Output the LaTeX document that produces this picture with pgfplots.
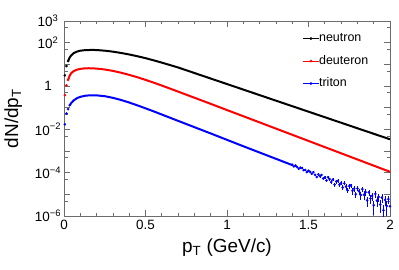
\documentclass[border=0pt]{standalone}
\usepackage{fontspec}
\setmainfont{Liberation Sans}
\usepackage{pgfplots}
\pgfplotsset{compat=1.18}
\begin{document}
\begin{tikzpicture}
\path[use as bounding box] (-64bp,-54bp) rectangle (335bp,216bp);
\begin{axis}[
  at={(0,0)}, anchor=south west,
  width=326bp, height=195bp, scale only axis,
  xmin=0, xmax=2, ymin=1e-6, ymax=1e3, ymode=log,
  clip=true,
  axis line style={gray!85!black, line width=0.8bp},
  tick style={gray!85!black, line width=0.7bp},
  tick align=inside,
  xtick pos=both, ytick pos=both,
  xticklabel pos=lower, yticklabel pos=left,
  major tick length=6bp, minor tick length=3.5bp,
  xtick={0,0.5,1,1.5,2},
  xticklabels={0,0.5,1,1.5,2},
  minor x tick num=4,
  ytick={1e-6,1e-5,1e-4,1e-3,1e-2,1e-1,1,10,100,1000},
  yticklabels={10\textsuperscript{−6},{},10\textsuperscript{−4},{},10\textsuperscript{−2},{},1,{},10\textsuperscript{2},10\textsuperscript{3}},
  minor ytick={5e-6,5e-5,5e-4,5e-3,5e-2,0.5,5,50,500},
  ticklabel style={font=\fontsize{13.5}{16}\selectfont, text=black},
  yticklabel style={anchor=center, xshift=-16bp},
  xticklabel style={yshift=-1bp},
  /pgf/number format/assume math mode=true,
  xlabel={p\textsubscript{T} (GeV/c)},
  ylabel={dN/dp\textsubscript{T}},
  label style={font=\fontsize{19}{22}\selectfont},
  xlabel style={at={(axis description cs:0.5,0)}, anchor=base, yshift=-36bp},
  ylabel style={at={(axis description cs:-0.141,0.5)}, anchor=base},
  legend image code/.code={
    \draw[#1, line width=0.7bp] (0bp,0bp) -- (15.6bp,0bp);
    \fill[#1] (7.8bp,0bp) circle (1.2bp);},
  legend style={at={(rel axis cs:0.732,0.942)}, anchor=north west, draw=none, fill=none,
    font=\fontsize{12.5}{14}\selectfont, inner sep=0pt, row sep=10.5bp,
    nodes={inner sep=0pt, text height=9bp, text depth=3bp},
    /tikz/every even column/.append style={column sep=2.5bp}},
  legend cell align=left,
]
\addlegendimage{black}\addlegendentry{neutron}
\addlegendimage{red}\addlegendentry{deuteron}
\addlegendimage{blue}\addlegendentry{triton}

% neutron
\addplot[black, line width=2bp, forget plot] coordinates {
(0.025,14.1)(0.035,20.9)(0.045,26.3)(0.06,33.1)(0.08,38.9)(0.10,42.7)(0.13,45.2)(0.17,46.2)
(0.20,45.7)(0.25,42.7)(0.30,38.5)(0.35,33.5)(0.40,28.5)(0.45,23.7)(0.50,19.3)(0.55,15.3)
(0.60,12.0)(0.70,7.16)(0.80,3.98)(0.90,2.21)(1.00,1.23)(1.10,0.684)(1.20,0.380)(1.30,0.211)
(1.40,0.1175)(1.50,0.0653)(1.60,0.0363)(1.70,0.0202)(1.80,0.0112)(1.90,0.00624)(2.00,0.00347)};
\addplot[black, only marks, mark=*, mark size=1.1bp, forget plot] coordinates {
(0.005,3.09)(0.015,8.32)(0.025,14.1)};

% deuteron
\addplot[red, line width=2bp, forget plot] coordinates {
(0.025,1.91)(0.035,3.02)(0.045,3.98)(0.06,4.90)(0.08,5.69)(0.10,6.17)(0.125,6.49)(0.15,6.61)
(0.20,6.38)(0.25,5.78)(0.30,4.98)(0.35,4.10)(0.40,3.27)(0.45,2.54)(0.50,1.92)(0.55,1.43)
(0.60,1.05)(0.70,0.552)(0.80,0.288)(0.90,0.150)(1.00,0.0776)(1.10,0.0403)(1.20,0.0209)
(1.30,0.01084)(1.40,0.00562)(1.50,0.00292)(1.60,0.00151)(1.70,7.85e-4)(1.80,4.07e-4)
(1.90,2.11e-4)(2.00,1.10e-4)};
\addplot[red, only marks, mark=*, mark size=1.1bp, forget plot] coordinates {
(0.005,0.380)(0.015,1.07)(0.025,1.91)};

% triton
\addplot[blue, line width=2bp, forget plot] coordinates {
(0.035,0.129)(0.045,0.166)(0.06,0.219)(0.08,0.275)(0.10,0.316)(0.13,0.355)(0.16,0.372)
(0.19,0.373)(0.20,0.369)(0.25,0.339)(0.30,0.285)(0.35,0.226)(0.40,0.173)(0.45,0.128)
(0.50,0.0933)(0.55,0.0676)(0.60,0.0482)(0.70,0.0246)(0.80,0.0126)(0.90,0.00646)
(1.00,0.00327)(1.10,0.00166)(1.20,8.51e-4)(1.30,4.37e-4)(1.40,2.24e-4)};
\addplot[blue, only marks, mark=*, mark size=1.1bp, forget plot] coordinates {
(0.005,0.0170)(0.015,0.0537)(0.025,0.0851)(0.035,0.129)};
\addplot[blue, only marks, mark=*, mark size=1.1bp, forget plot,
  error bars/.cd, y dir=both, y explicit, error mark=none,
  error bar style={line width=0.6bp}] table[x=x, y=y, y error=e] {
x y e
1.40 2.344e-4 2.1e-5
1.41 1.95e-4 1.76e-5
1.42 2.14e-4 1.93e-5
1.43 1.82e-4 1.64e-5
1.44 1.51e-4 1.36e-5
1.45 1.70e-4 1.53e-5
1.46 1.66e-4 1.49e-5
1.47 1.32e-4 1.45e-5
1.48 1.32e-4 1.45e-5
1.49 1.05e-4 1.16e-5
1.50 1.23e-4 1.35e-5
1.51 1.10e-4 1.21e-5
1.52 8.91e-5 1.25e-5
1.53 1.05e-4 1.16e-5
1.54 7.94e-5 1.11e-5
1.55 6.31e-5 8.8e-6
1.56 8.32e-5 1.16e-5
1.57 6.92e-5 9.7e-6
1.58 7.76e-5 1.09e-5
1.59 5.37e-5 9.1e-6
1.60 6.03e-5 8.4e-6
1.61 4.37e-5 7.4e-6
1.62 6.17e-5 8.6e-6
1.63 5.01e-5 8.5e-6
1.64 3.72e-5 7.8e-6
1.65 4.79e-5 8.1e-6
1.66 2.82e-5 5.9e-6
1.67 3.89e-5 8.2e-6
1.68 4.17e-5 7.1e-6
1.69 2.75e-5 5.8e-6
1.70 3.31e-5 7.0e-6
1.71 2.09e-5 5.6e-6
1.72 3.24e-5 6.8e-6
1.73 2.29e-5 6.2e-6
1.74 1.51e-5 4.1e-6
1.75 2.45e-5 6.6e-6
1.76 2.57e-5 5.4e-6
1.77 1.45e-5 4.8e-6
1.78 1.82e-5 4.9e-6
1.79 1.00e-5 3.3e-6
1.80 1.86e-5 5.0e-6
1.81 1.38e-5 4.6e-6
1.82 9.33e-6 3.9e-6
1.83 1.74e-5 4.7e-6
1.84 9.55e-6 4.0e-6
1.85 1.26e-5 4.2e-6
1.86 5.25e-6 2.6e-6
1.87 1.23e-5 4.1e-6
1.88 6.46e-6 2.7e-6
1.89 8.51e-6 3.6e-6
1.90 3.16e-6 2.0e-6
1.91 1.05e-5 3.5e-6
1.92 5.13e-6 2.6e-6
1.93 7.59e-6 3.2e-6
1.94 3.39e-6 2.0e-6
1.95 7.08e-6 3.0e-6
1.96 1.86e-6 1.5e-6
1.97 5.50e-6 2.75e-6
1.98 2.88e-6 1.9e-6
1.99 6.03e-6 2.5e-6
2.00 2.82e-6 1.8e-6
};
\end{axis}
\end{tikzpicture}
\end{document}
